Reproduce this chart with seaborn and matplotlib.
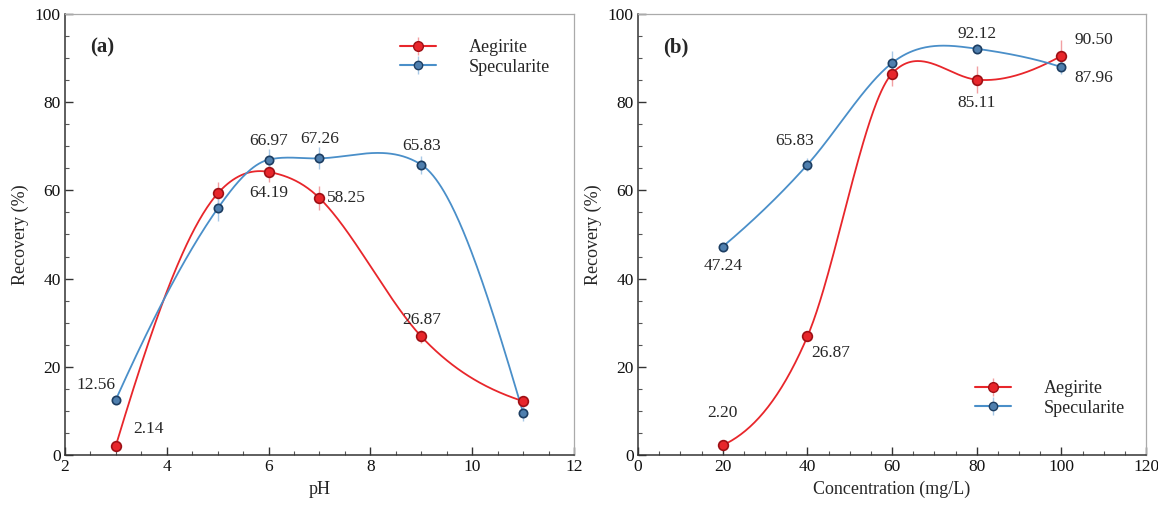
import numpy as np
import pandas as pd
import matplotlib
matplotlib.use("Agg")
import matplotlib.pyplot as plt
import seaborn as sns

# panel (a): effect of pH
ph = [3, 5, 6, 7, 9, 11]
aeg_ph = [2.14, 59.3, 64.19, 58.25, 26.87, 12.2]
aeg_ph_err = [1.0, 2.5, 2.2, 2.8, 1.5, 1.2]
spe_ph = [12.56, 55.9, 66.97, 67.26, 65.83, 9.6]
spe_ph_err = [1.0, 2.8, 2.5, 2.5, 2.0, 2.0]

# panel (b): effect of concentration
conc = [20, 40, 60, 80, 100]
aeg_c = [2.20, 26.87, 86.5, 85.11, 90.50]
aeg_c_err = [0.8, 1.0, 2.8, 3.0, 3.5]
spe_c = [47.24, 65.83, 88.9, 92.12, 87.96]
spe_c_err = [0.8, 1.5, 2.8, 1.0, 1.5]

RED = "#e8262b"
RED_ERR = "#f2a0a3"
BLUE = "#4a8fc9"
BLUE_ERR = "#a9c9e6"
BLUE_FACE = "#4f7fae"
BLUE_EDGE = "#1d3e62"


def natural_spline(x, y, xs):
    k = len(x)
    h = np.diff(x)
    A = np.zeros((k, k))
    r = np.zeros(k)
    A[0, 0] = A[-1, -1] = 1
    for i in range(1, k - 1):
        A[i, i - 1] = h[i - 1]
        A[i, i] = 2 * (h[i - 1] + h[i])
        A[i, i + 1] = h[i]
        r[i] = 6 * ((y[i + 1] - y[i]) / h[i] - (y[i] - y[i - 1]) / h[i - 1])
    m = np.linalg.solve(A, r)
    idx = np.clip(np.searchsorted(x, xs) - 1, 0, k - 2)
    x0, x1 = x[idx], x[idx + 1]
    hh = x1 - x0
    a, b = x1 - xs, xs - x0
    return (m[idx] * a ** 3 + m[idx + 1] * b ** 3) / (6 * hh) \
        + (y[idx] / hh - m[idx] * hh / 6) * a \
        + (y[idx + 1] / hh - m[idx + 1] * hh / 6) * b


def akima(x, y, xs):
    k = len(x)
    m = np.diff(y) / np.diff(x)
    mm = np.empty(k + 3)
    mm[2:k + 1] = m
    mm[1] = 2 * mm[2] - mm[3]
    mm[0] = 2 * mm[1] - mm[2]
    mm[k + 1] = 2 * mm[k] - mm[k - 1]
    mm[k + 2] = 2 * mm[k + 1] - mm[k]
    t = np.empty(k)
    for i in range(k):
        w1 = abs(mm[i + 3] - mm[i + 2])
        w2 = abs(mm[i + 1] - mm[i])
        if w1 + w2 == 0:
            t[i] = 0.5 * (mm[i + 1] + mm[i + 2])
        else:
            t[i] = (w1 * mm[i + 1] + w2 * mm[i + 2]) / (w1 + w2)
    idx = np.clip(np.searchsorted(x, xs) - 1, 0, k - 2)
    h = x[idx + 1] - x[idx]
    s = (xs - x[idx]) / h
    return (2 * s ** 3 - 3 * s ** 2 + 1) * y[idx] + (s ** 3 - 2 * s ** 2 + s) * h * t[idx] \
        + (-2 * s ** 3 + 3 * s ** 2) * y[idx + 1] + (s ** 3 - s ** 2) * h * t[idx + 1]


def smooth(x, y, n=300):
    x = np.asarray(x, float)
    y = np.asarray(y, float)
    xs = np.linspace(x[0], x[-1], n)
    # blend of natural cubic and Akima, closest to the original's look
    return xs, 0.5 * (natural_spline(x, y, xs) + akima(x, y, xs))


def draw_series(ax, x, y, err, line_c, err_c, face, edge, ms, label):
    xs, ys = smooth(x, y)
    sns.lineplot(x=xs, y=ys, ax=ax, color=line_c, lw=1.3)
    ax.errorbar(x, y, yerr=err, fmt="none", ecolor=err_c, elinewidth=1.0, capsize=0, zorder=3)
    ax.plot(x, y, "o", ms=ms, mfc=face, mec=edge, mew=1.2, zorder=4)
    # proxy for legend
    ax.errorbar([np.nan], [np.nan], yerr=[1], fmt="-o", color=line_c, ms=ms, mfc=face,
                mec=edge, ecolor=err_c, elinewidth=1.0, label=label)


sns.set_theme(style="ticks")
plt.rcParams["font.family"] = ["Liberation Serif", "DejaVu Serif"]

fig = plt.figure(figsize=(11.58, 5.11), dpi=100)
ax1 = fig.add_axes([0.0561, 0.1096, 0.4396, 0.863])
ax2 = fig.add_axes([0.551, 0.1096, 0.4387, 0.863])

panels = [(ax1, ph, aeg_ph, aeg_ph_err, spe_ph, spe_ph_err),
          (ax2, conc, aeg_c, aeg_c_err, spe_c, spe_c_err)]

for ax, xv, a, ae, s, se in panels:
    draw_series(ax, xv, a, ae, RED, RED_ERR, RED, "#9e1015", 7, "Aegirite")
    draw_series(ax, xv, s, se, BLUE, BLUE_ERR, BLUE_FACE, BLUE_EDGE, 6, "Specularite")
    ax.set_ylim(0, 100)
    ax.set_yticks(range(0, 101, 20))
    ax.set_yticks(range(0, 101, 5), minor=True)
    ax.set_ylabel("Recovery (%)", fontsize=13)
    ax.tick_params(which="major", direction="in", length=6, width=1, labelsize=12.5,
                   colors="#333333", labelcolor="#111111", pad=3)
    ax.tick_params(which="minor", direction="in", length=3, width=0.8, colors="#555555")
    for side in ("left", "bottom"):
        ax.spines[side].set_color("#333333")
        ax.spines[side].set_linewidth(1.1)
    for side in ("top", "right"):
        ax.spines[side].set_visible(True)
        ax.spines[side].set_color("#aaaaaa")
        ax.spines[side].set_linewidth(0.9)

ax1.set_xlim(2, 12)
ax1.set_xticks(range(2, 13, 2))
ax1.set_xticks(np.arange(2, 12.01, 0.5), minor=True)
ax1.set_xlabel("pH", fontsize=13)

ax2.set_xlim(0, 120)
ax2.set_xticks(range(0, 121, 20))
ax2.set_xticks(range(0, 121, 5), minor=True)
ax2.set_xlabel("Concentration (mg/L)", fontsize=13)

ax1.text(0.05, 0.925, "(a)", transform=ax1.transAxes, fontsize=15, fontweight="bold", va="center")
ax2.text(0.05, 0.925, "(b)", transform=ax2.transAxes, fontsize=15, fontweight="bold", va="center")

fs = 12.5
# panel (a) value labels
ax1.text(3, 12.56 + 1.5, "12.56", ha="right", va="bottom", fontsize=fs)
ax1.text(3.35, 2.14 + 2.0, "2.14", ha="left", va="bottom", fontsize=fs)
ax1.text(6, 66.97 + 2.5, "66.97", ha="center", va="bottom", fontsize=fs)
ax1.text(6, 64.19 - 3.0, "64.19", ha="center", va="top", fontsize=fs)
ax1.text(7, 67.26 + 2.5, "67.26", ha="center", va="bottom", fontsize=fs)
ax1.text(7.15, 58.25, "58.25", ha="left", va="center", fontsize=fs)
ax1.text(9, 65.83 + 2.5, "65.83", ha="center", va="bottom", fontsize=fs)
ax1.text(9, 26.87 + 2.0, "26.87", ha="center", va="bottom", fontsize=fs)

# panel (b) value labels
ax2.text(20, 47.24 - 2.5, "47.24", ha="center", va="top", fontsize=fs)
ax2.text(20, 2.20 + 5.5, "2.20", ha="center", va="bottom", fontsize=fs)
ax2.text(37, 65.83 + 3.5, "65.83", ha="center", va="bottom", fontsize=fs)
ax2.text(41, 26.87 - 2.0, "26.87", ha="left", va="top", fontsize=fs)
ax2.text(80, 92.12 + 1.5, "92.12", ha="center", va="bottom", fontsize=fs)
ax2.text(80, 85.11 - 3.5, "85.11", ha="center", va="top", fontsize=fs)
ax2.text(103, 90.50 + 3.5, "90.50", ha="left", va="center", fontsize=fs)
ax2.text(103, 87.96 - 2.5, "87.96", ha="left", va="center", fontsize=fs)

leg_kw = dict(frameon=False, fontsize=13, handlelength=2.0, handletextpad=1.8,
              labelspacing=0.15)
ax1.legend(loc="upper right", bbox_to_anchor=(0.985, 0.98), **leg_kw)
ax2.legend(loc="lower right", bbox_to_anchor=(0.99, 0.05), **leg_kw)

fig.savefig("out.png", dpi=100)
